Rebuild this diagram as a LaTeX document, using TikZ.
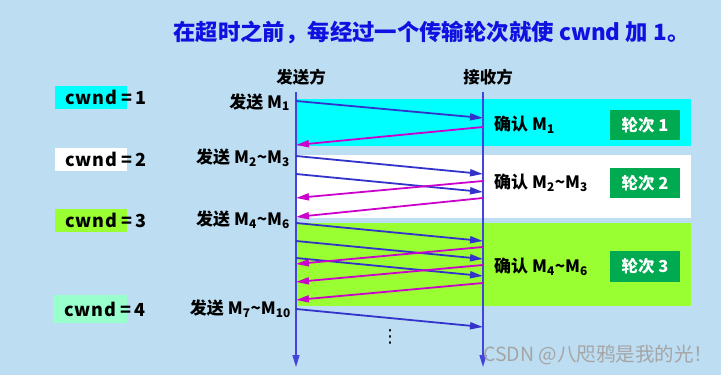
\documentclass[tikz,border=0pt]{standalone}
\usepackage{fontspec}
\setmainfont{Noto Sans CJK SC}
\newfontfamily\djv{DejaVu Sans}
\usetikzlibrary{arrows.meta}
\definecolor{bg}{RGB}{189,221,242}
\definecolor{titleblue}{RGB}{16,16,224}
\definecolor{arrblue}{RGB}{51,51,204}
\definecolor{linblue}{RGB}{68,68,221}
\definecolor{arrmag}{RGB}{204,0,204}
\definecolor{bandcyan}{RGB}{0,255,255}
\definecolor{bandgreen}{RGB}{153,255,51}
\definecolor{mint}{RGB}{153,255,204}
\definecolor{roundgreen}{RGB}{0,170,80}
\definecolor{wmgray}{RGB}{165,165,165}
\newcommand{\cwlabel}[1]{{\addfontfeature{LetterSpace=4}cwnd}\hspace{5pt}=\hspace{3pt}#1}
\begin{document}
\begin{tikzpicture}[x=1pt,y=-1pt,
  hdr/.style={font=\fontsize{16.5}{18}\selectfont\bfseries, inner sep=0pt},
  lbl/.style={font=\fontsize{17}{19}\selectfont\bfseries, inner sep=0pt},
  cwbox/.style={inner sep=0pt, minimum width=72pt, minimum height=23pt},
  cwtext/.style={font=\fontsize{18}{20}\selectfont\bfseries, inner sep=0pt, anchor=west},
  roundbox/.style={fill=roundgreen, text=white, font=\fontsize{16.5}{18}\selectfont\bfseries, inner sep=0pt, minimum width=70pt, minimum height=30pt},
  vline/.style={draw=linblue, line width=1.4pt, -{Triangle[length=12pt,width=7pt]}},
  sendarr/.style={draw=arrblue, line width=1.8pt, -{Triangle[length=13pt,width=7pt]}},
  ackarr/.style={draw=arrmag, line width=1.8pt, -{Triangle[length=13pt,width=7pt]}}
]
\useasboundingbox (0,0) rectangle (721,375);
\fill[bg] (0,0) rectangle (721,375);

% title
\node[anchor=west, inner sep=0pt, text=titleblue, font=\fontsize{22.4}{24}\selectfont\bfseries] (title) at (173,32) {在超时之前，每经过一个传输轮次就使 cwnd 加 1。};

% bands
\fill[bandcyan] (296,99) rectangle (691,146);
\fill[white] (296,155) rectangle (691,218);
\fill[bandgreen] (296,223) rectangle (691,306);

% headers
\node[hdr] (sender) at (301,77) {发送方};
\node[hdr] (receiver) at (488,77) {接收方};

% time lines
\coordinate (stop) at (296,92);
\coordinate (sbot) at (296,367);
\coordinate (rtop) at (483,92);
\coordinate (rbot) at (483,367);
\draw[vline] (stop) -- (sbot);
\draw[vline] (rtop) -- (rbot);

% cwnd labels
\node[cwbox, fill=bandcyan] (cw1) at (91,97.5) {};
\node[cwbox, fill=white] (cw2) at (91,159) {};
\node[cwbox, fill=bandgreen] (cw3) at (91,220.5) {};
\node[cwbox, fill=mint, minimum width=74pt, minimum height=28pt] (cw4) at (90,309) {};
\node[cwtext] (t1) at (65,97.5) {\cwlabel{1}};
\node[cwtext] (t2) at (65,159) {\cwlabel{2}};
\node[cwtext] (t3) at (65,220.5) {\cwlabel{3}};
\node[cwtext] (t4) at (64,309) {\cwlabel{4}};

% sender labels
\node[lbl, anchor=east] (s1) at (290,102) {发送 M\textsubscript{1}};
\node[lbl, anchor=east] (s2) at (290,158) {发送 M\textsubscript{2}\textasciitilde M\textsubscript{3}};
\node[lbl, anchor=east] (s3) at (290,220) {发送 M\textsubscript{4}\textasciitilde M\textsubscript{6}};
\node[lbl, anchor=east] (s4) at (291,309) {发送 M\textsubscript{7}\textasciitilde M\textsubscript{10}};

% receiver labels
\node[lbl, anchor=west] (a1) at (494,125) {确认 M\textsubscript{1}};
\node[lbl, anchor=west] (a2) at (494,183) {确认 M\textsubscript{2}\textasciitilde M\textsubscript{3}};
\node[lbl, anchor=west] (a3) at (494,267) {确认 M\textsubscript{4}\textasciitilde M\textsubscript{6}};

% round boxes
\node[roundbox] (r1) at (645,125) {轮次 1};
\node[roundbox] (r2) at (645,183) {轮次 2};
\node[roundbox, minimum height=31pt] (r3) at (645,266.5) {轮次 3};

% send arrows
\foreach \i/\a/\b in {1/101/118, 2/156/174, 3/174/192, 4/223/241, 5/241/259, 6/258/276, 7/309/327} {
  \coordinate (bs\i) at (296,\a);
  \coordinate (be\i) at (483,\b);
  \draw[sendarr] (bs\i) -- (be\i);
}
% ack arrows
\foreach \i/\a/\b in {1/127/145, 2/181/198, 3/198/217, 4/247/264, 5/265/282, 6/283/300} {
  \coordinate (ms\i) at (483,\a);
  \coordinate (me\i) at (296,\b);
  \draw[ackarr] (ms\i) -- (me\i);
}

% ellipsis
\node[inner sep=0pt, font=\djv\fontsize{18}{20}\selectfont] (dots) at (390,336.5) {⋮};

% watermark
\node[anchor=west, inner sep=0pt, text=wmgray, font=\fontsize{19.5}{21}\selectfont] (wm) at (483,355) {CSDN @八咫鸦是我的光！};
\end{tikzpicture}
\end{document}
